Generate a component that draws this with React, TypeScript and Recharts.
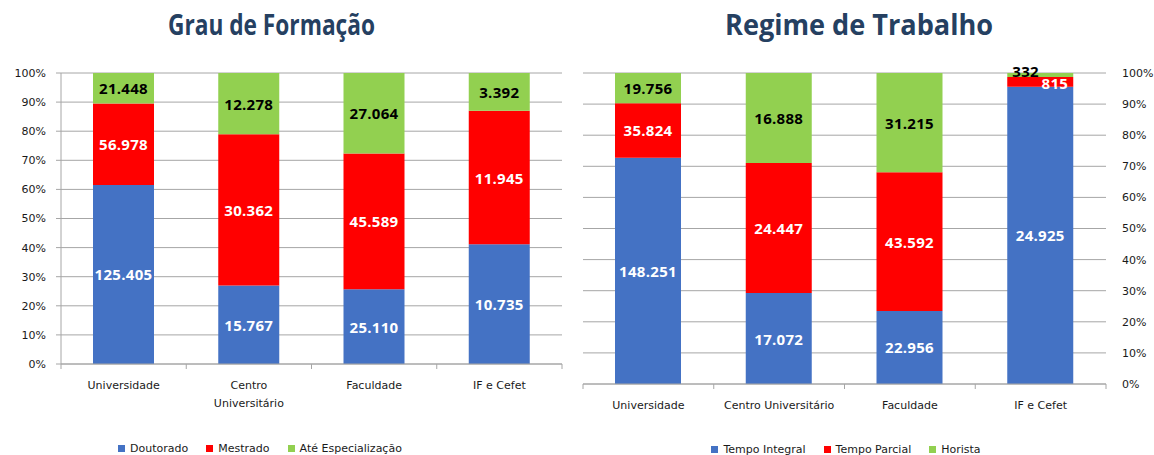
import React from 'react';
import { Bar, BarChart, CartesianGrid, LabelList, Legend, XAxis, YAxis } from 'recharts';

const categories = ['Universidade', 'Centro Universitário', 'Faculdade', 'IF e Cefet'];

// Grau de Formação
const doutorado = [125405, 15767, 25110, 10735];
const mestrado = [56978, 30362, 45589, 11945];
const especializacao = [21448, 12278, 27064, 3392];

// Regime de Trabalho
const tempoIntegral = [148251, 17072, 22956, 24925];
const tempoParcial = [35824, 24447, 43592, 815];
const horista = [19756, 16888, 31215, 332];

const percentTicks = [0, 0.1, 0.2, 0.3, 0.4, 0.5, 0.6, 0.7, 0.8, 0.9, 1];

const BLUE = '#4472C4';
const RED = '#FF0000';
const GREEN = '#92D050';
const GRID = '#a6a6a6';
const TITLE = '#254061';
const AXIS_FONT = '"DejaVu Sans", Verdana, sans-serif';
const VALUE_FONT = '"Open Sans", sans-serif';

const formacaoData = categories.map((name, i) => ({
  name,
  doutorado: doutorado[i],
  mestrado: mestrado[i],
  especializacao: especializacao[i],
}));

const regimeData = categories.map((name, i) => ({
  name,
  integral: tempoIntegral[i],
  parcial: tempoParcial[i],
  horista: horista[i],
}));

const fmt = (v: number) => String(v).replace(/\B(?=(\d{3})+(?!\d))/g, '.');
const pct = (v: number) => `${Math.round(v * 100)}%`;

const wrapLabel = (label: string, maxChars: number) => {
  if (label.length <= maxChars) return [label];
  const lines: string[] = [];
  let cur = '';
  label.split(' ').forEach((w) => {
    if (cur && (cur + ' ' + w).length > maxChars) {
      lines.push(cur);
      cur = w;
    } else {
      cur = cur ? cur + ' ' + w : w;
    }
  });
  if (cur) lines.push(cur);
  return lines;
};

const XTick = (props: any) => {
  const { x, y, payload, index, visibleTicksCount, wrapAt = 100 } = props;
  const half = payload && payload.offset ? payload.offset : 0;
  const lines = wrapLabel(String(payload.value), wrapAt);
  const last = index === (visibleTicksCount ?? categories.length) - 1;
  return (
    <g>
      <line x1={x - half} x2={x - half} y1={y} y2={y + 5} stroke={GRID} />
      {last && <line x1={x + half} x2={x + half} y1={y} y2={y + 5} stroke={GRID} />}
      <text x={x} y={y + 25} textAnchor="middle" fontSize={11} fontFamily={AXIS_FONT} fill="#1a1a1a">
        {lines.map((l, i) => (
          <tspan key={i} x={x} dy={i === 0 ? 0 : 18}>{l}</tspan>
        ))}
      </text>
    </g>
  );
};

const makeLabel = (color: string, isTop: boolean) => (props: any) => {
  const { x, y, width, height, value } = props;
  const common = { fontSize: 15, fontWeight: 700, fontFamily: VALUE_FONT, fill: color, letterSpacing: 0.3 };
  if (Math.abs(height) < 14) {
    if (isTop) {
      return <text x={x + 5} y={y - 2} textAnchor="start" dominantBaseline="central" {...common} fill="#000">{fmt(value)}</text>;
    }
    return <text x={x + width - 5} y={y + height / 2 + 1} textAnchor="end" dominantBaseline="central" {...common}>{fmt(value)}</text>;
  }
  return (
    <text x={x + width / 2} y={y + height / 2} textAnchor="middle" dominantBaseline="central" {...common}>
      {fmt(value)}
    </text>
  );
};

const renderLegend = (items: { label: string; color: string }[]) => () => (
  <div style={{ display: 'flex', justifyContent: 'center', alignItems: 'center', height: 16, fontFamily: AXIS_FONT, fontSize: 11, color: '#1a1a1a' }}>
    {items.map((it, i) => (
      <div key={it.label} style={{ display: 'flex', alignItems: 'center', marginLeft: i === 0 ? 0 : 18 }}>
        <span style={{ display: 'inline-block', width: 7, height: 7, background: it.color, marginRight: 5 }} />
        <span>{it.label}</span>
      </div>
    ))}
  </div>
);

export default function App() {
  return (
    <div style={{ position: 'absolute', left: 0, top: 0, width: 1154, height: 455, background: '#fff', overflow: 'hidden' }}>
      <svg width={1154} height={50} style={{ position: 'absolute', left: 0, top: 0 }}>
        <text x={168} y={35} textLength={207} lengthAdjust="spacingAndGlyphs" fontSize={28} fontWeight={700} fontFamily={VALUE_FONT} fill={TITLE}>
          Grau de Formação
        </text>
        <text x={725} y={35} textLength={268} lengthAdjust="spacingAndGlyphs" fontSize={28} fontWeight={700} fontFamily={VALUE_FONT} fill={TITLE}>
          Regime de Trabalho
        </text>
      </svg>

      <div style={{ position: 'absolute', left: 0, top: 0 }}>
        <BarChart width={580} height={455} data={formacaoData} stackOffset="expand" margin={{ top: 73, right: 18, left: 0, bottom: 51 }}>
          <CartesianGrid stroke={GRID} vertical={false} />
          <XAxis dataKey="name" interval={0} height={40} tickLine={false} tickSize={0} tickMargin={0} axisLine={{ stroke: GRID }} tick={<XTick wrapAt={14} />} />
          <YAxis
            width={61}
            domain={[0, 1]}
            ticks={percentTicks}
            tickFormatter={pct}
            axisLine={{ stroke: GRID }}
            tickLine={{ stroke: GRID }}
            tickSize={5}
            tickMargin={10}
            tick={{ fontSize: 11, fontFamily: AXIS_FONT, fill: '#1a1a1a' }}
          />
          <Legend
            layout="horizontal"
            verticalAlign="middle"
            align="center"
            wrapperStyle={{ top: 440, left: 0, width: 520, height: 16 }}
            content={renderLegend([
              { label: 'Doutorado', color: BLUE },
              { label: 'Mestrado', color: RED },
              { label: 'Até Especialização', color: GREEN },
            ])}
          />
          <Bar dataKey="doutorado" name="Doutorado" stackId="a" fill={BLUE} barSize={61} isAnimationActive={false}>
            <LabelList dataKey="doutorado" content={makeLabel('#fff', false)} />
          </Bar>
          <Bar dataKey="mestrado" name="Mestrado" stackId="a" fill={RED} barSize={61} isAnimationActive={false}>
            <LabelList dataKey="mestrado" content={makeLabel('#fff', false)} />
          </Bar>
          <Bar dataKey="especializacao" name="Até Especialização" stackId="a" fill={GREEN} barSize={61} isAnimationActive={false}>
            <LabelList dataKey="especializacao" content={makeLabel('#000', true)} />
          </Bar>
        </BarChart>
      </div>

      <div style={{ position: 'absolute', left: 580, top: 0 }}>
        <BarChart width={574} height={455} data={regimeData} stackOffset="expand" margin={{ top: 73, right: 0, left: 3, bottom: 41 }}>
          <CartesianGrid stroke={GRID} vertical={false} yAxisId="r" />
          <XAxis dataKey="name" interval={0} height={30} tickLine={false} tickSize={0} tickMargin={0} axisLine={{ stroke: GRID }} tick={<XTick />} />
          <YAxis yAxisId="l" orientation="left" width={0} domain={[0, 1]} tick={false} tickLine={false} axisLine={{ stroke: GRID }} />
          <YAxis
            yAxisId="r"
            orientation="right"
            width={48}
            domain={[0, 1]}
            ticks={percentTicks}
            tickFormatter={pct}
            axisLine={false}
            tickLine={false}
            tickSize={6}
            tickMargin={10}
            tick={{ fontSize: 11, fontFamily: AXIS_FONT, fill: '#1a1a1a', textAnchor: 'start' }}
          />
          <Legend
            layout="horizontal"
            verticalAlign="middle"
            align="center"
            wrapperStyle={{ top: 441, left: 0, width: 532, height: 16 }}
            content={renderLegend([
              { label: 'Tempo Integral', color: BLUE },
              { label: 'Tempo Parcial', color: RED },
              { label: 'Horista', color: GREEN },
            ])}
          />
          <Bar yAxisId="r" dataKey="integral" name="Tempo Integral" stackId="b" fill={BLUE} barSize={66} isAnimationActive={false}>
            <LabelList dataKey="integral" content={makeLabel('#fff', false)} />
          </Bar>
          <Bar yAxisId="r" dataKey="parcial" name="Tempo Parcial" stackId="b" fill={RED} barSize={66} isAnimationActive={false}>
            <LabelList dataKey="parcial" content={makeLabel('#fff', false)} />
          </Bar>
          <Bar yAxisId="r" dataKey="horista" name="Horista" stackId="b" fill={GREEN} barSize={66} isAnimationActive={false}>
            <LabelList dataKey="horista" content={makeLabel('#000', true)} />
          </Bar>
        </BarChart>
      </div>
    </div>
  );
}
